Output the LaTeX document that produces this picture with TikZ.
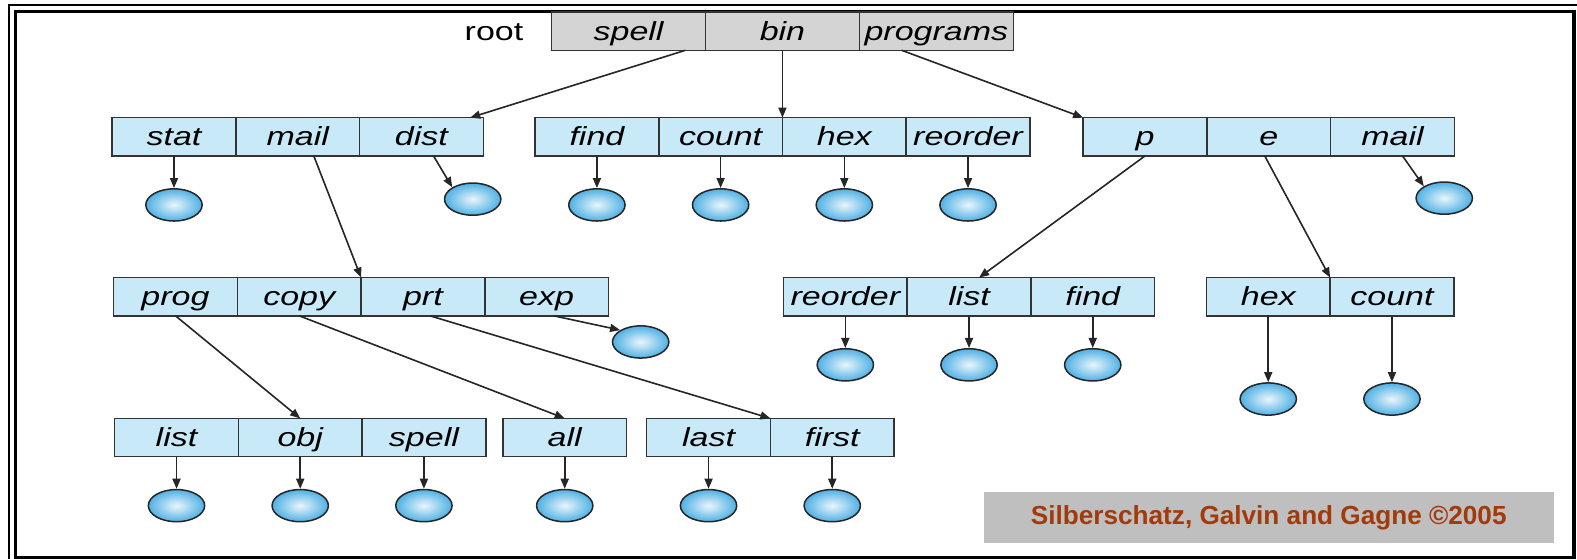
\documentclass[tikz,border=0pt]{standalone}
\usepackage{fontspec}
\setmainfont{Liberation Sans}
\newfontfamily\namefont{Liberation Sans}[FakeStretch=1.3]
\usetikzlibrary{positioning,arrows.meta,shapes.geometric}

\definecolor{dirblue}{HTML}{C8E9F8}
\definecolor{rootgray}{HTML}{D4D4D4}
\definecolor{fileblue}{HTML}{4FB0E4}
\definecolor{creditred}{HTML}{A23A0C}

\begin{document}
\begin{tikzpicture}[x=1pt, y=-1pt, node distance=0pt, >={Triangle[length=10pt,width=8pt]},
  dir/.style={draw=black!80, line width=1.5pt, fill=dirblue, minimum width=123pt, minimum height=38pt,
    text height=20pt, text depth=2pt,
    inner sep=0pt, outer sep=0pt, font=\namefont\itshape\fontsize{26}{26}\selectfont},
  rootdir/.style={dir, fill=rootgray, minimum width=153pt},
  file/.style={ellipse, draw=black!85, line width=1.5pt, inner color=fileblue!12, outer color=fileblue,
    minimum width=56pt, minimum height=32pt, inner sep=0pt},
  link/.style={->, line width=1.6pt, draw=black!85}]
  \useasboundingbox (0,0) rectangle (1568,556);
  % frame
  \draw[line width=2.5pt] (9,556) -- (9,5) -- (1568,5);
  \draw[line width=3pt] (15,11) rectangle (1565,554);

  % root directory
  \node[rootdir] (spell) at (625,31) {spell};
  \node[rootdir, right=of spell] (bin) {bin};
  \node[rootdir, right=of bin] (programs) {programs};
  \node[left=28pt of spell, inner sep=0pt, text height=20pt, text depth=2pt,
    font=\namefont\fontsize{26}{26}\selectfont] (root) {root};

  % second level
  \node[dir] (stat) at (173,136) {stat};
  \node[dir, right=of stat] (mail) {mail};
  \node[dir, right=of mail] (dist) {dist};
  \node[dir] (find) at (593.5,136) {find};
  \node[dir, right=of find] (count) {count};
  \node[dir, right=of count] (hex) {hex};
  \node[dir, right=of hex] (reorder) {reorder};
  \node[dir] (p) at (1138.5,136) {p};
  \node[dir, right=of p] (e) {e};
  \node[dir, right=of e] (pmail) {mail};

  % third level
  \node[dir] (prog) at (174.5,295) {prog};
  \node[dir, right=of prog] (copy) {copy};
  \node[dir, right=of copy] (prt) {prt};
  \node[dir, right=of prt] (exp) {exp};
  \node[dir] (preorder) at (840.5,295) {reorder};
  \node[dir, right=of preorder] (plist) {list};
  \node[dir, right=of plist] (pfind) {find};
  \node[dir] (ehex) at (1261,295) {hex};
  \node[dir, right=of ehex] (ecount) {count};

  % fourth level
  \node[dir] (glist) at (175.5,435) {list};
  \node[dir, right=of glist] (obj) {obj};
  \node[dir, right=of obj] (gspell) {spell};
  \node[dir] (all) at (561.5,435) {all};
  \node[dir] (last) at (704.5,435) {last};
  \node[dir, right=of last] (first) {first};

  % files
  \foreach \d in {stat,find,count,hex,reorder,preorder,plist,pfind,glist,obj,gspell,all,last,first}
    \node[file, below=32pt of \d] (\d-f) {};
  \foreach \d in {ehex,ecount}
    \node[file, below=66pt of \d] (\d-f) {};
  \node[file] (dist-f) at (470,198) {};
  \node[file] (pmail-f) at (1436,197) {};
  \node[file] (exp-f) at (637,340) {};

  \foreach \d in {stat,find,count,hex,reorder,preorder,plist,pfind,ehex,ecount,glist,obj,gspell,all,last,first}
    \draw[link] (\d) -- (\d-f);
  \draw[link] ([xshift=12pt]dist.south) -- (dist-f.north west);
  \draw[link] ([xshift=10pt]pmail.south) -- (pmail-f.north west);
  \draw[link] ([xshift=7pt]exp.south) -- (exp-f.150);

  % subdirectory links
  \draw[link] ([xshift=-20pt]spell.south east) -- ([xshift=-13pt]dist.north east);
  \draw[link] (bin.south) -- (count.north east);
  \draw[link] ([xshift=42pt]programs.south west) -- (p.north west);
  \draw[link] ([xshift=16pt]mail.south) -- (prt.north west);
  \draw[link] (p.south) -- ([xshift=10pt]plist.north);
  \draw[link] ([xshift=-4pt]e.south) -- (ehex.north east);
  \draw[link] (prog.south) -- (obj.north);
  \draw[link] (copy.south) -- (all.north);
  \draw[link] ([xshift=7pt]prt.south) -- (last.north east);

  \node[fill=black!25, minimum width=567pt, minimum height=51pt, text=creditred,
    font=\bfseries\fontsize{26}{26}\selectfont] (credit) at (1261.5,514.5) {Silberschatz, Galvin and Gagne ©2005};
\end{tikzpicture}
\end{document}
